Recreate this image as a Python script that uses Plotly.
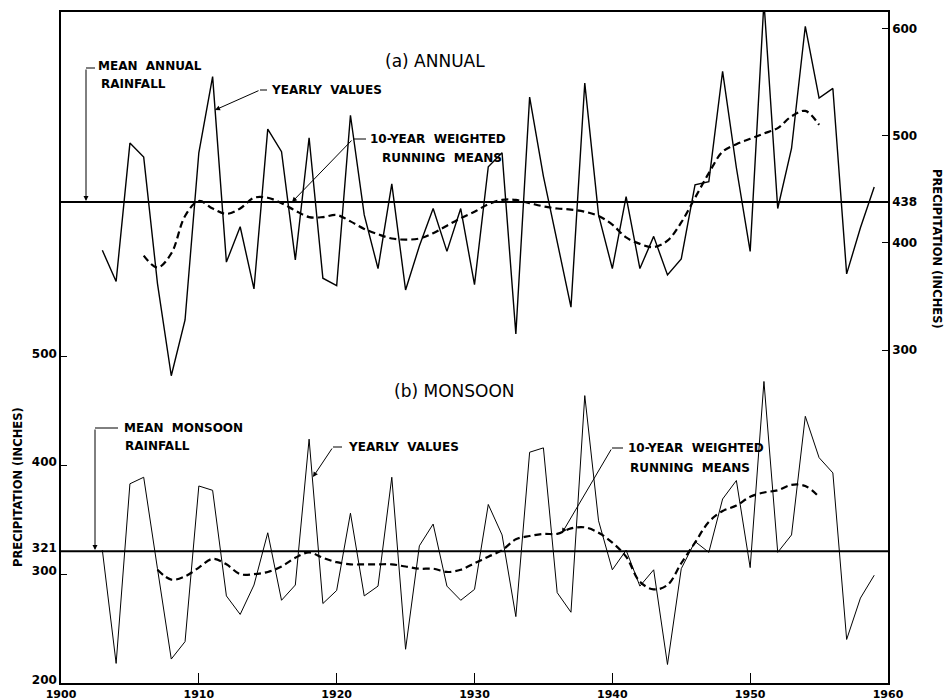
import plotly.graph_objects as go

# ---------------- data ----------------
years = list(range(1903, 1960))
annual = [393, 364, 493, 480, 362, 276, 328, 484, 555, 382,
          415, 357, 506, 485, 384, 498, 367, 360, 519, 426,
          376, 455, 356, 397, 432, 392, 432, 361, 471, 484,
          315, 536, 462, 401, 340, 549, 426, 376, 443, 376,
          406, 370, 385, 454, 457, 560, 470, 392, 625, 432,
          488, 602, 535, 544, 371, 414, 452]
monsoon = [322, 218, 383, 389, 305, 222, 238, 381, 377, 280,
           263, 290, 338, 276, 290, 424, 273, 285, 356, 280,
           289, 389, 231, 326, 346, 289, 276, 286, 364, 336,
           261, 412, 416, 283, 265, 464, 349, 304, 322, 289,
           304, 217, 305, 330, 320, 369, 386, 306, 477, 320,
           336, 445, 407, 393, 240, 278, 299]

rm_annual_years = list(range(1906, 1956))
rm_annual = [388, 377, 390, 425, 439, 432, 427, 432, 442, 442,
             437, 430, 424, 424, 426, 420, 413, 408, 404, 403,
             404, 409, 416, 423, 429, 436, 440, 440, 437, 434,
             432, 431, 429, 425, 417, 405, 399, 396, 402, 419,
             442, 465, 485, 492, 497, 502, 507, 518, 523, 510]
rm_monsoon_years = list(range(1907, 1956))
rm_monsoon = [304, 295, 298, 306, 314, 309, 300, 300, 302, 307,
              315, 320, 315, 311, 309, 309, 309, 309, 307, 305,
              305, 302, 304, 310, 316, 322, 332, 335, 337, 337,
              342, 343, 338, 329, 316, 293, 286, 290, 310, 329,
              348, 358, 363, 371, 375, 377, 382, 381, 371]

mean_annual = 438
mean_monsoon = 321
x_span = [1900, 1960]
x_ticks = [1900, 1910, 1920, 1930, 1940, 1950, 1960]
left_ticks = [200, 300, 321, 400, 500]
right_ticks = [300, 400, 438, 500, 600]

# ---------------- figure ----------------
W, H = 944, 700
L, R, T, B = 61, 56, 12, 17
PW, PH = W - L - R, H - T - B


def px(x):
    return (x - L) / PW


def py(y):
    return (H - B - y) / PH


BOLD = "DejaVu Sans"
fig = go.Figure()

# annual (right axis, y2)
fig.add_trace(go.Scatter(x=x_span, y=[mean_annual] * 2, yaxis="y2", mode="lines",
                         line=dict(color="black", width=2), showlegend=False))
fig.add_trace(go.Scatter(x=years, y=annual, yaxis="y2", mode="lines",
                         line=dict(color="black", width=1.4), showlegend=False))
fig.add_trace(go.Scatter(x=rm_annual_years, y=rm_annual, yaxis="y2", mode="lines",
                         line=dict(color="black", width=2.2, dash="7px,4px", shape="spline"),
                         showlegend=False))
# monsoon (left axis, y)
fig.add_trace(go.Scatter(x=x_span, y=[mean_monsoon] * 2, yaxis="y", mode="lines",
                         line=dict(color="black", width=2), showlegend=False))
fig.add_trace(go.Scatter(x=years, y=monsoon, yaxis="y", mode="lines",
                         line=dict(color="black", width=1), showlegend=False))
fig.add_trace(go.Scatter(x=rm_monsoon_years, y=rm_monsoon, yaxis="y", mode="lines",
                         line=dict(color="black", width=2.2, dash="7px,4px", shape="spline"),
                         showlegend=False))

tickfont = dict(family=BOLD, size=12, color="black", weight="bold")

fig.update_layout(
    width=W, height=H,
    margin=dict(l=L, r=R, t=T, b=B, pad=0),
    paper_bgcolor="white", plot_bgcolor="white",
    showlegend=False,
    xaxis=dict(range=[1900, 1960], tickvals=x_ticks, ticks="inside", ticklen=10,
               tickwidth=1, tickcolor="black", showline=True, linecolor="black",
               linewidth=1.5, mirror=True, showgrid=False, zeroline=False,
               tickfont=dict(family=BOLD, size=11, color="black", weight="bold"),
               ticklabelstandoff=0, automargin=False),
    yaxis=dict(range=[200, 816.4], tickvals=left_ticks, ticks="inside", ticklen=6,
               tickcolor="black", showline=True, linecolor="black", linewidth=1.5,
               showgrid=False, zeroline=False, tickfont=tickfont,
               ticklabelshift=-3, automargin=False),
    yaxis2=dict(range=[-10.6, 615.3], tickvals=right_ticks, ticks="inside", ticklen=6,
                tickcolor="black", showline=True, linecolor="black", linewidth=1.5,
                overlaying="y", side="right", showgrid=False, zeroline=False,
                tickfont=tickfont, automargin=False),
)

ann = []


def text(x, y, s, size=12, bold=True, anchor="left", angle=0):
    ann.append(dict(x=px(x), y=py(y), xref="paper", yref="paper", text=s,
                    showarrow=False, xanchor=anchor, yanchor="middle", textangle=angle,
                    font=dict(family=BOLD, size=size, color="black",
                              weight="bold" if bold else "normal")))


def arrow(tx, ty, hx, hy):
    ann.append(dict(x=px(hx), y=py(hy), xref="paper", yref="paper", text="",
                    showarrow=True, ax=tx - hx, ay=ty - hy, arrowhead=2,
                    arrowsize=1, arrowwidth=1, arrowcolor="black", standoff=0,
                    startstandoff=0))


shapes = []


def seg(x0, y0, x1, y1):
    shapes.append(dict(type="line", xref="paper", yref="paper",
                       x0=px(x0), y0=py(y0), x1=px(x1), y1=py(y1),
                       line=dict(color="black", width=1)))


S = "\u00a0\u00a0"
# panel titles
text(383, 61, "(a) ANNUAL", size=17, bold=False)
text(392, 391, "(b) MONSOON", size=17, bold=False)

# annual labels
text(96, 66, "MEAN" + S + "ANNUAL")
text(99, 84, "RAINFALL")
seg(95, 68, 86, 68)
arrow(86, 68, 86, 201)

text(269, 90, "YEARLY" + S + "VALUES")
seg(267, 90, 260, 90)
arrow(260, 90, 215, 110)

text(368, 139, "10-YEAR" + S + "WEIGHTED")
text(380, 158, "RUNNING" + S + "MEANS")
seg(366, 139, 353, 139)
arrow(353, 139, 292, 202)

# monsoon labels
text(122, 428, "MEAN" + S + "MONSOON")
text(123, 446, "RAINFALL")
seg(118, 428, 95, 428)
arrow(95, 428, 95, 550)

text(346, 447, "YEARLY" + S + "VALUES")
seg(342, 447, 333, 447)
arrow(333, 447, 313, 477)

text(626, 448, "10-YEAR" + S + "WEIGHTED")
text(628, 468, "RUNNING" + S + "MEANS")
seg(623, 448, 612, 448)
arrow(612, 448, 562, 533)

# axis titles
text(18, 487, "PRECIPITATION (INCHES)", size=11.5, anchor="center", angle=-90)
text(937, 249, "PRECIPITATION (INCHES)", size=11.5, anchor="center", angle=90)

fig.update_layout(annotations=ann, shapes=shapes)
fig.write_html(
    "out.html",
    config={"displayModeBar": False},
    post_script="document.body.style.margin='0';document.body.style.overflow='hidden';",
)
